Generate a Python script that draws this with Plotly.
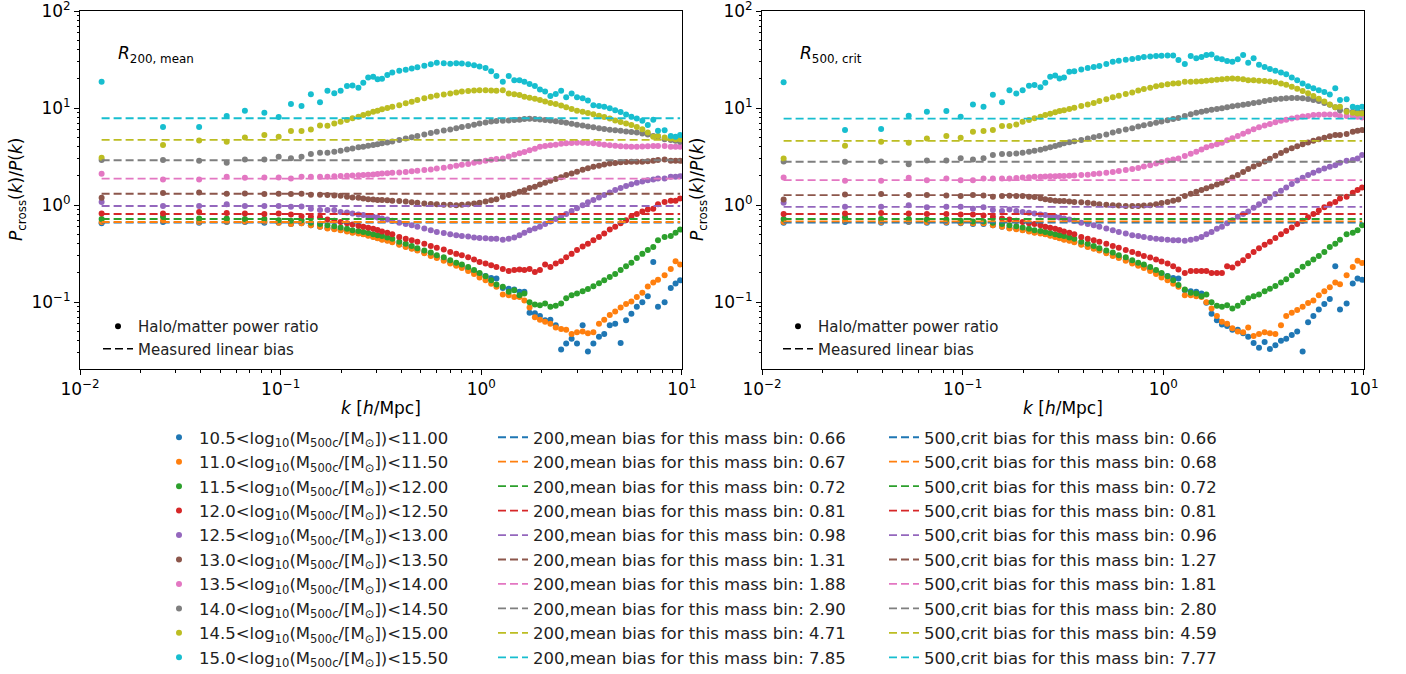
import plotly.graph_objects as go

# ---------------- data ----------------
k_vals = [0.0128, 0.0259, 0.0392, 0.0538, 0.0663, 0.0829, 0.0977, 0.1125, 0.127, 0.1414, 0.157,
          0.171, 0.185, 0.199, 0.214, 0.228, 0.244, 0.258, 0.273, 0.289, 0.304,
          0.32, 0.34, 0.36, 0.39, 0.42, 0.45, 0.48, 0.52, 0.56, 0.60, 0.65, 0.70, 0.75, 0.80, 0.86, 0.92, 0.98, 1.05, 1.12, 1.19,
          1.28, 1.37, 1.46, 1.55, 1.64, 1.74, 1.85, 1.96, 2.08, 2.21, 2.35, 2.5, 2.65, 2.82, 3.0, 3.2, 3.4, 3.62, 3.86, 4.1,
          4.37, 4.65, 4.95, 5.27, 5.6, 5.96, 6.35, 6.76, 7.2,
          7.6, 8.2, 8.8, 9.3, 9.8]

mass_lo = ["10.5", "11.0", "11.5", "12.0", "12.5", "13.0", "13.5", "14.0", "14.5", "15.0"]
mass_hi = ["11.00", "11.50", "12.00", "12.50", "13.00", "13.50", "14.00", "14.50", "15.00", "15.50"]

bias_200mean = [0.66, 0.67, 0.72, 0.81, 0.98, 1.31, 1.88, 2.90, 4.71, 7.85]
bias_500crit = [0.66, 0.68, 0.72, 0.81, 0.96, 1.27, 1.81, 2.80, 4.59, 7.77]

# R200,mean panel: halo/matter power ratio per mass bin
r200_bin0 = [0.65, 0.67, 0.66, 0.67, 0.67, 0.66, 0.66, 0.64, 0.65, 0.62, 0.60,
             0.58, 0.57, 0.555, 0.54, 0.525, 0.515, 0.505, 0.49, 0.475, 0.46,
             0.445, 0.435, 0.42, 0.395, 0.375, 0.36, 0.345, 0.325, 0.305, 0.29, 0.272, 0.256, 0.243, 0.232, 0.218, 0.205, 0.195, 0.186, 0.178, 0.175,
             0.14, 0.138, 0.135, 0.128, 0.128, 0.078, 0.077, 0.072, 0.065, 0.066, 0.058, 0.0325, 0.0375, 0.042, 0.0375, 0.058, 0.031, 0.0375, 0.044, 0.047,
             0.058, 0.06, 0.038, 0.065, 0.076, 0.09, 0.1, 0.115, 0.26,
             0.09, 0.1, 0.14, 0.156, 0.168]
r200_bin1 = [0.67, 0.69, 0.67, 0.68, 0.68, 0.68, 0.66, 0.64, 0.65, 0.62, 0.60,
             0.575, 0.565, 0.55, 0.535, 0.52, 0.51, 0.5, 0.485, 0.47, 0.455,
             0.44, 0.43, 0.415, 0.39, 0.37, 0.355, 0.34, 0.32, 0.3, 0.285, 0.268, 0.25, 0.237, 0.225, 0.21, 0.195, 0.18, 0.168, 0.155, 0.144,
             0.12, 0.118, 0.113, 0.113, 0.104, 0.088, 0.07, 0.066, 0.063, 0.06, 0.055, 0.053, 0.052, 0.047, 0.049, 0.05, 0.048, 0.049, 0.06, 0.066,
             0.074, 0.08, 0.088, 0.096, 0.102, 0.113, 0.125, 0.145, 0.16,
             0.17, 0.19, 0.22, 0.265, 0.245]
r200_bin2 = [0.72, 0.76, 0.73, 0.73, 0.72, 0.72, 0.70, 0.69, 0.70, 0.66, 0.64,
             0.62, 0.605, 0.59, 0.57, 0.55, 0.54, 0.53, 0.515, 0.5, 0.49,
             0.48, 0.465, 0.45, 0.42, 0.4, 0.38, 0.36, 0.34, 0.325, 0.305, 0.29, 0.27, 0.255, 0.245, 0.23, 0.215, 0.2, 0.185, 0.168, 0.152,
             0.144, 0.128, 0.133, 0.118, 0.123, 0.1, 0.095, 0.093, 0.097, 0.09, 0.092, 0.097, 0.11, 0.118, 0.123, 0.13, 0.137, 0.146, 0.157, 0.168,
             0.182, 0.195, 0.215, 0.235, 0.255, 0.285, 0.315, 0.345, 0.37,
             0.435, 0.47, 0.48, 0.52, 0.56]
r200_bin3 = [0.82, 0.82, 0.85, 0.83, 0.82, 0.81, 0.82, 0.80, 0.77, 0.76, 0.75,
             0.71, 0.69, 0.67, 0.65, 0.63, 0.615, 0.6, 0.585, 0.57, 0.555,
             0.535, 0.52, 0.5, 0.47, 0.45, 0.435, 0.42, 0.4, 0.38, 0.365, 0.35, 0.33, 0.315, 0.305, 0.29, 0.275, 0.26, 0.25, 0.24, 0.23,
             0.22, 0.21, 0.215, 0.217, 0.215, 0.22, 0.205, 0.215, 0.245, 0.23, 0.25, 0.265, 0.29, 0.315, 0.345, 0.375, 0.4, 0.435, 0.47, 0.51,
             0.56, 0.6, 0.65, 0.7, 0.76, 0.81, 0.86, 0.9, 0.92,
             1.02, 1.08, 1.11, 1.11, 1.17]
r200_bin4 = [1.08, 0.98, 0.98, 1.02, 0.98, 0.98, 0.98, 0.96, 0.97, 0.92, 0.89,
             0.89, 0.89, 0.85, 0.84, 0.82, 0.8, 0.79, 0.77, 0.76, 0.745,
             0.73, 0.71, 0.69, 0.66, 0.64, 0.62, 0.6, 0.575, 0.55, 0.53, 0.515, 0.5, 0.49, 0.48, 0.475, 0.465, 0.46, 0.455, 0.45, 0.45,
             0.44, 0.45, 0.465, 0.49, 0.52, 0.55, 0.575, 0.6, 0.64, 0.68, 0.72, 0.76, 0.81, 0.87, 0.93, 1.0, 1.07, 1.13, 1.2, 1.27,
             1.35, 1.43, 1.5, 1.57, 1.64, 1.7, 1.75, 1.8, 1.84,
             1.88, 1.88, 1.96, 1.96, 1.99]
r200_bin5 = [1.19, 1.33, 1.35, 1.31, 1.32, 1.30, 1.31, 1.30, 1.31, 1.28, 1.28,
             1.27, 1.26, 1.25, 1.22, 1.2, 1.19, 1.17, 1.15, 1.14, 1.13,
             1.13, 1.12, 1.11, 1.1, 1.09, 1.07, 1.06, 1.04, 1.03, 1.02, 1.01, 1.01, 1.0, 1.01, 1.02, 1.04, 1.06, 1.09, 1.12, 1.15,
             1.22, 1.27, 1.32, 1.37, 1.42, 1.5, 1.55, 1.63, 1.7, 1.78, 1.86, 1.94, 2.04, 2.12, 2.21, 2.31, 2.4, 2.48, 2.55, 2.62,
             2.68, 2.72, 2.76, 2.78, 2.8, 2.8, 2.8, 2.83, 2.86,
             2.91, 2.96, 2.86, 2.86, 2.86]
r200_bin6 = [2.1, 1.84, 1.84, 1.96, 1.91, 1.93, 1.93, 1.88, 1.96, 1.96, 1.96,
             1.96, 1.98, 2.0, 2.01, 2.02, 2.03, 2.05, 2.06, 2.07, 2.09,
             2.12, 2.13, 2.15, 2.17, 2.2, 2.23, 2.26, 2.3, 2.33, 2.38, 2.43, 2.48, 2.54, 2.6, 2.66, 2.73, 2.8, 2.87, 2.93, 2.98,
             3.03, 3.17, 3.3, 3.42, 3.52, 3.68, 3.82, 3.99, 4.07, 4.14, 4.2, 4.28, 4.33, 4.37, 4.39, 4.39, 4.36, 4.33, 4.26, 4.18,
             4.13, 4.08, 4.05, 4.02, 3.99, 3.99, 4.02, 4.04, 4.06,
             4.06, 4.06, 3.99, 3.99, 3.99]
r200_bin7 = [2.91, 2.91, 2.86, 2.73, 2.96, 2.96, 3.15, 3.05, 3.15, 3.36, 3.46,
             3.46, 3.54, 3.63, 3.75, 3.84, 3.94, 3.99, 4.08, 4.16, 4.25,
             4.33, 4.42, 4.52, 4.68, 4.85, 5.0, 5.14, 5.33, 5.52, 5.7, 5.88, 6.03, 6.2, 6.38, 6.55, 6.75, 6.95, 7.1, 7.25, 7.34,
             7.4, 7.45, 7.52, 7.6, 7.7, 7.77, 7.7, 7.64, 7.55, 7.45, 7.3, 7.2, 7.06, 6.9, 6.75, 6.6, 6.45, 6.33, 6.2, 6.08,
             5.98, 5.9, 5.83, 5.75, 5.68, 5.6, 5.48, 5.35, 5.14,
             5.06, 4.76, 4.68, 4.6, 4.5]
r200_bin8 = [3.07, 4.16, 4.64, 4.5, 4.98, 5.27, 5.06, 5.8, 5.8, 6.03, 6.63,
             6.57, 6.95, 7.22, 7.52, 7.84, 8.13, 8.46, 8.8, 9.16, 9.4,
             9.7, 10.0, 10.3, 10.7, 11.2, 11.6, 12.1, 12.6, 13.1, 13.5, 13.8, 14.1, 14.5, 14.8, 15.0, 15.2, 15.3, 15.3, 15.2, 15.1,
             15.3, 14.1, 13.9, 13.6, 13.1, 12.8, 12.5, 12.1, 11.7, 11.3, 11.0, 10.6, 10.2, 9.8, 9.4, 9.15, 8.9, 8.65, 8.35, 8.1,
             7.8, 7.45, 7.2, 6.95, 6.7, 6.4, 6.05, 5.6, 5.06,
             5.14, 4.98, 4.87, 4.76, 4.76]
r200_bin9 = [18.7, 6.37, 6.37, 8.27, 9.38, 8.95, 8.07, 11.0, 10.5, 13.9, 11.5,
             15.1, 14.2, 15.1, 16.9, 17.1, 16.2, 18.2, 20.7, 21.0, 19.8,
             20.1, 21.9, 23.3, 24.2, 24.8, 25.6, 26.4, 27.3, 28.3, 29.3, 29.0, 28.6, 28.9, 28.7, 28.2, 27.6, 26.8, 25.8, 24.0, 21.4,
             18.7, 21.4, 19.4, 19.4, 18.7, 17.7, 16.9, 15.5, 14.8, 13.3, 14.0, 15.1, 12.9, 14.1, 12.9, 12.6, 12.0, 10.7, 10.5, 10.3,
             9.93, 9.5, 9.1, 8.6, 8.15, 7.8, 7.4, 6.7, 7.6,
             5.83, 5.92, 5.14, 5.06, 5.27]

# R500,crit panel
r500_bin0 = [0.66, 0.67, 0.66, 0.67, 0.66, 0.66, 0.65, 0.64, 0.64, 0.62, 0.60,
             0.58, 0.57, 0.555, 0.54, 0.525, 0.515, 0.505, 0.49, 0.475, 0.46,
             0.445, 0.435, 0.42, 0.395, 0.375, 0.36, 0.345, 0.325, 0.305, 0.29, 0.272, 0.256, 0.243, 0.232, 0.218, 0.205, 0.195, 0.186, 0.178, 0.175,
             0.133, 0.13, 0.128, 0.123, 0.099, 0.076, 0.065, 0.059, 0.057, 0.052, 0.052, 0.048, 0.044, 0.038, 0.034, 0.039, 0.033, 0.036, 0.04, 0.042,
             0.046, 0.05, 0.031, 0.062, 0.072, 0.084, 0.096, 0.108, 0.235,
             0.084, 0.097, 0.156, 0.175, 0.17]
r500_bin1 = [0.67, 0.69, 0.67, 0.68, 0.67, 0.67, 0.66, 0.65, 0.65, 0.62, 0.60,
             0.575, 0.565, 0.55, 0.535, 0.52, 0.51, 0.5, 0.485, 0.47, 0.455,
             0.44, 0.43, 0.415, 0.39, 0.37, 0.355, 0.34, 0.32, 0.3, 0.285, 0.268, 0.25, 0.237, 0.225, 0.21, 0.195, 0.18, 0.168, 0.155, 0.144,
             0.118, 0.118, 0.115, 0.113, 0.1, 0.086, 0.072, 0.063, 0.06, 0.054, 0.05, 0.049, 0.055, 0.045, 0.047, 0.049, 0.048, 0.047, 0.058, 0.072,
             0.078, 0.083, 0.09, 0.098, 0.104, 0.118, 0.13, 0.143, 0.16,
             0.153, 0.19, 0.23, 0.267, 0.254]
r500_bin2 = [0.72, 0.75, 0.72, 0.72, 0.71, 0.71, 0.69, 0.68, 0.68, 0.66, 0.64,
             0.62, 0.605, 0.59, 0.57, 0.55, 0.54, 0.53, 0.515, 0.5, 0.49,
             0.48, 0.465, 0.45, 0.42, 0.4, 0.38, 0.36, 0.34, 0.325, 0.305, 0.29, 0.27, 0.255, 0.245, 0.23, 0.215, 0.2, 0.185, 0.168, 0.15,
             0.135, 0.125, 0.123, 0.115, 0.12, 0.1, 0.092, 0.09, 0.093, 0.086, 0.092, 0.1, 0.11, 0.115, 0.12, 0.13, 0.138, 0.147, 0.16, 0.172,
             0.19, 0.21, 0.232, 0.252, 0.275, 0.3, 0.33, 0.37, 0.4,
             0.44, 0.5, 0.52, 0.55, 0.62]
r500_bin3 = [0.81, 0.82, 0.83, 0.82, 0.81, 0.81, 0.80, 0.80, 0.78, 0.76, 0.73,
             0.71, 0.69, 0.67, 0.65, 0.64, 0.62, 0.6, 0.585, 0.57, 0.555,
             0.535, 0.52, 0.5, 0.47, 0.45, 0.435, 0.42, 0.4, 0.38, 0.365, 0.345, 0.33, 0.315, 0.3, 0.288, 0.275, 0.262, 0.25, 0.235, 0.217,
             0.2, 0.21, 0.21, 0.21, 0.21, 0.2, 0.2, 0.2, 0.235, 0.228, 0.25, 0.27, 0.3, 0.33, 0.36, 0.39, 0.42, 0.46, 0.5, 0.54,
             0.59, 0.64, 0.69, 0.75, 0.81, 0.88, 0.95, 1.02, 1.08,
             1.17, 1.22, 1.34, 1.43, 1.52]
r500_bin4 = [1.06, 0.96, 0.96, 1.0, 0.95, 0.96, 0.96, 0.92, 0.95, 0.89, 0.87,
             0.9, 0.87, 0.85, 0.835, 0.82, 0.8, 0.79, 0.77, 0.76, 0.745,
             0.73, 0.71, 0.69, 0.66, 0.64, 0.62, 0.6, 0.575, 0.55, 0.53, 0.51, 0.49, 0.48, 0.47, 0.46, 0.45, 0.445, 0.44, 0.435, 0.435,
             0.43, 0.44, 0.45, 0.47, 0.5, 0.53, 0.57, 0.6, 0.65, 0.7, 0.76, 0.81, 0.86, 0.94, 1.02, 1.1, 1.2, 1.3, 1.41, 1.52,
             1.65, 1.79, 1.92, 2.04, 2.15, 2.27, 2.38, 2.48, 2.58,
             2.73, 2.86, 2.91, 3.03, 3.28]
r500_bin5 = [1.14, 1.29, 1.3, 1.27, 1.27, 1.26, 1.24, 1.27, 1.26, 1.22, 1.24,
             1.25, 1.24, 1.24, 1.22, 1.21, 1.18, 1.15, 1.13, 1.11, 1.1,
             1.1, 1.09, 1.08, 1.07, 1.06, 1.04, 1.02, 1.01, 1.0, 0.99, 0.98, 0.98, 0.98, 0.99, 1.0, 1.02, 1.05, 1.08, 1.11, 1.14,
             1.24, 1.31, 1.37, 1.43, 1.49, 1.56, 1.63, 1.7, 1.8, 1.93, 2.05, 2.2, 2.35, 2.5, 2.65, 2.82, 3.0, 3.22, 3.45, 3.65,
             3.85, 4.05, 4.25, 4.42, 4.6, 4.78, 4.96, 5.12, 5.27,
             5.27, 5.4, 5.7, 5.83, 5.93]
r500_bin6 = [1.93, 1.78, 1.78, 1.91, 1.81, 1.88, 1.81, 1.81, 1.88, 1.88, 1.88,
             1.88, 1.9, 1.93, 1.94, 1.96, 1.96, 1.97, 1.98, 1.99, 2.0,
             2.0, 2.01, 2.02, 2.04, 2.06, 2.09, 2.12, 2.16, 2.2, 2.25, 2.3, 2.35, 2.42, 2.5, 2.58, 2.68, 2.78, 2.88, 2.96, 3.03,
             3.2, 3.38, 3.55, 3.75, 3.94, 4.1, 4.25, 4.39, 4.65, 4.9, 5.15, 5.45, 5.75, 6.05, 6.35, 6.6, 6.85, 7.15, 7.4, 7.6,
             7.8, 8.0, 8.17, 8.3, 8.46, 8.53, 8.6, 8.6, 8.6,
             8.27, 8.27, 8.27, 8.13, 8.0]
r500_bin7 = [2.82, 2.8, 2.82, 2.63, 2.89, 2.89, 3.05, 2.96, 3.05, 3.28, 3.36,
             3.36, 3.41, 3.46, 3.55, 3.63, 3.73, 3.84, 3.95, 4.06, 4.2,
             4.33, 4.45, 4.55, 4.68, 4.85, 5.0, 5.14, 5.35, 5.61, 5.8, 6.0, 6.2, 6.45, 6.65, 6.85, 7.05, 7.25, 7.5, 7.7, 7.9,
             8.27, 8.65, 8.95, 9.15, 9.38, 9.6, 9.8, 9.93, 10.2, 10.45, 10.6, 10.8, 11.0, 11.3, 11.5, 11.8, 12.1, 12.3, 12.5, 12.6,
             12.7, 12.7, 12.6, 12.4, 12.1, 11.8, 11.3, 10.8, 10.2,
             9.52, 9.38, 9.16, 9.16, 8.95]
r500_bin8 = [3.03, 4.09, 4.5, 4.39, 4.87, 5.14, 4.94, 5.7, 5.8, 5.93, 6.52,
             6.52, 6.78, 7.22, 7.52, 7.84, 8.15, 8.46, 8.75, 9.03, 9.3,
             9.52, 9.8, 10.1, 10.5, 10.9, 11.3, 11.8, 12.3, 12.9, 13.4, 14.0, 14.5, 15.2, 15.7, 16.2, 16.8, 17.2, 17.6, 17.9, 18.0,
             18.7, 18.7, 18.8, 18.9, 19.1, 19.3, 19.6, 19.8, 20.0, 20.2, 20.0, 19.8, 19.4, 19.3, 19.1, 19.0, 18.8, 18.5, 17.9, 17.4,
             16.6, 15.8, 15.0, 14.2, 13.3, 12.5, 11.7, 10.9, 10.2,
             10.3, 9.16, 8.95, 8.8, 8.8]
r500_bin9 = [18.4, 5.93, 6.07, 8.33, 9.16, 9.3, 8.13, 10.9, 10.3, 13.7, 11.5,
             15.3, 14.1, 15.3, 17.0, 17.3, 16.4, 18.2, 21.0, 21.6, 20.2,
             20.7, 23.7, 24.0, 25.0, 25.8, 26.5, 27.2, 28.5, 30.0, 30.8, 31.5, 32.0, 32.8, 33.5, 34.0, 34.4, 34.6, 34.8, 34.7, 31.2,
             28.5, 34.4, 32.5, 33.5, 35.2, 35.7, 32.5, 31.8, 30.5, 30.0, 31.8, 35.2, 29.3, 32.5, 28.0, 26.5, 25.2, 24.2, 23.3, 22.3,
             20.6, 19.3, 17.9, 16.8, 16.0, 15.3, 14.6, 13.8, 16.0,
             12.1, 12.3, 10.3, 10.1, 10.3]

ratios_200 = [r200_bin0, r200_bin1, r200_bin2, r200_bin3, r200_bin4,
              r200_bin5, r200_bin6, r200_bin7, r200_bin8, r200_bin9]
ratios_500 = [r500_bin0, r500_bin1, r500_bin2, r500_bin3, r500_bin4,
              r500_bin5, r500_bin6, r500_bin7, r500_bin8, r500_bin9]

colors = ["#1f77b4", "#ff7f0e", "#2ca02c", "#d62728", "#9467bd",
          "#8c564b", "#e377c2", "#7f7f7f", "#bcbd22", "#17becf"]

# ---------------- figure ----------------
W, H = 1406, 674
FONT = "DejaVu Sans"
MS = 6
DASH = "8px,4px"

fig = go.Figure()

k_span = [k_vals[0], k_vals[-1]]

for panel, (ratios, biases, xa, ya, lg, tag) in enumerate([
        (ratios_200, bias_200mean, "x", "y", "legend2", "200,mean"),
        (ratios_500, bias_500crit, "x2", "y2", "legend3", "500,crit")]):
    for i in range(10):
        fig.add_trace(go.Scatter(
            x=k_vals, y=ratios[i], mode="markers", xaxis=xa, yaxis=ya,
            marker=dict(color=colors[i], size=MS, line=dict(width=0)),
            name=f"{mass_lo[i]}&lt;log<sub>10</sub>(M<sub>500c</sub>/[M<sub>⊙</sub>])&lt;{mass_hi[i]}",
            legend="legend", legendgroup=f"m{i}",
            showlegend=(panel == 0)))
    for i in range(10):
        fig.add_trace(go.Scatter(
            x=k_span, y=[biases[i], biases[i]], mode="lines", xaxis=xa, yaxis=ya,
            line=dict(color=colors[i], width=1.8, dash=DASH),
            name=f"{tag} bias for this mass bin: {biases[i]:.2f}",
            legend=lg, legendgroup=f"{tag}{i}", showlegend=True))
    # in-panel key
    inlg = "legend4" if panel == 0 else "legend5"
    fig.add_trace(go.Scatter(x=[None], y=[None], mode="markers", xaxis=xa, yaxis=ya,
                             marker=dict(color="black", size=MS),
                             name="Halo/matter power ratio", legend=inlg,
                             legendgroup=f"a{panel}"))
    fig.add_trace(go.Scatter(x=[None], y=[None], mode="lines", xaxis=xa, yaxis=ya,
                             line=dict(color="black", width=1.5, dash=DASH),
                             name="Measured linear bias", legend=inlg,
                             legendgroup=f"b{panel}"))

# axes geometry (pixels -> paper)
def px(x):
    return x / W

def py(y):
    return 1 - y / H

xdomL = [px(80), px(682)]
xdomR = [px(762), px(1364)]
ydom = [py(369), py(10.7)]

major_x = [0.01, 0.1, 1, 10]
major_x_txt = ["10<sup>−2</sup>", "10<sup>−1</sup>", "10<sup>0</sup>", "10<sup>1</sup>"]
major_y = [0.1, 1, 10, 99.95]
major_y_txt = ["10<sup>−1</sup>", "10<sup>0</sup>", "10<sup>1</sup>", "10<sup>2</sup>"]
minor_x = [m * d for d in (0.01, 0.1, 1) for m in range(2, 10)]
minor_y = [m * d for d in (0.01, 0.1, 1, 10) for m in range(2, 10)]

TICKFS = 17
axis_common = dict(type="log", showgrid=False, zeroline=False, showline=True,
                   linecolor="black", linewidth=1, mirror=True,
                   ticks="outside", ticklen=5, tickwidth=1, tickcolor="black",
                   automargin=False, ticklabeloverflow="allow",
                   tickfont=dict(family=FONT, size=TICKFS, color="black"))

xa_common = dict(axis_common, range=[-2.0005, 1.0005], tickmode="array", tickvals=major_x,
                 ticktext=major_x_txt,
                 minor=dict(tickmode="array", tickvals=minor_x, ticks="outside",
                            ticklen=2.5, tickcolor="black", showgrid=False))
ya_common = dict(axis_common, range=[-1.688, 2.003], tickmode="array", tickvals=major_y,
                 ticktext=major_y_txt,
                 minor=dict(tickmode="array", tickvals=minor_y, ticks="outside",
                            ticklen=2.5, tickcolor="black", showgrid=False))

leg_common = dict(bgcolor="rgba(0,0,0,0)", borderwidth=0,
                  font=dict(family=FONT, size=16.5, color="#222"),
                  xanchor="left", yanchor="top", tracegroupgap=0, itemclick=False)
leg_in = dict(leg_common, font=dict(family=FONT, size=15, color="#222"))

fig.update_layout(
    width=W, height=H, margin=dict(l=0, r=0, t=0, b=0, autoexpand=False),
    paper_bgcolor="white", plot_bgcolor="white",
    font=dict(family=FONT, size=16, color="black"),
    xaxis=dict(xa_common, domain=xdomL, anchor="y"),
    yaxis=dict(ya_common, domain=ydom, anchor="x"),
    xaxis2=dict(xa_common, domain=xdomR, anchor="y2"),
    yaxis2=dict(ya_common, domain=ydom, anchor="x2"),
    legend=dict(leg_common, x=px(159), y=py(420)),
    legend2=dict(leg_common, x=px(493), y=py(420)),
    legend3=dict(leg_common, x=px(884), y=py(420)),
    legend4=dict(leg_in, x=px(98), y=py(310)),
    legend5=dict(leg_in, x=px(778), y=py(310)),
    showlegend=True,
)

ann = []
for cx in ((80 + 682) / 2, (762 + 1364) / 2):
    ann.append(dict(text="<i>k</i> [<i>h</i>/Mpc]", x=px(cx), y=py(408),
                    xref="paper", yref="paper", showarrow=False,
                    xanchor="center", yanchor="middle",
                    font=dict(family=FONT, size=17, color="black")))
for cx in (17, 698):
    ann.append(dict(text="<i>P</i><sub>cross</sub>(<i>k</i>)/<i>P</i>(<i>k</i>)",
                    x=px(cx), y=py(190), xref="paper", yref="paper", showarrow=False,
                    textangle=-90, xanchor="center", yanchor="middle",
                    font=dict(family=FONT, size=17, color="black")))
ann.append(dict(text="<i>R</i><sub>200, mean</sub>", x=px(116), y=py(55),
                xref="paper", yref="paper", showarrow=False, xanchor="left",
                yanchor="middle", font=dict(family=FONT, size=17, color="black")))
ann.append(dict(text="<i>R</i><sub>500, crit</sub>", x=px(798), y=py(55),
                xref="paper", yref="paper", showarrow=False, xanchor="left",
                yanchor="middle", font=dict(family=FONT, size=17, color="black")))
fig.update_layout(annotations=ann)

fig.write_html("out.html")
